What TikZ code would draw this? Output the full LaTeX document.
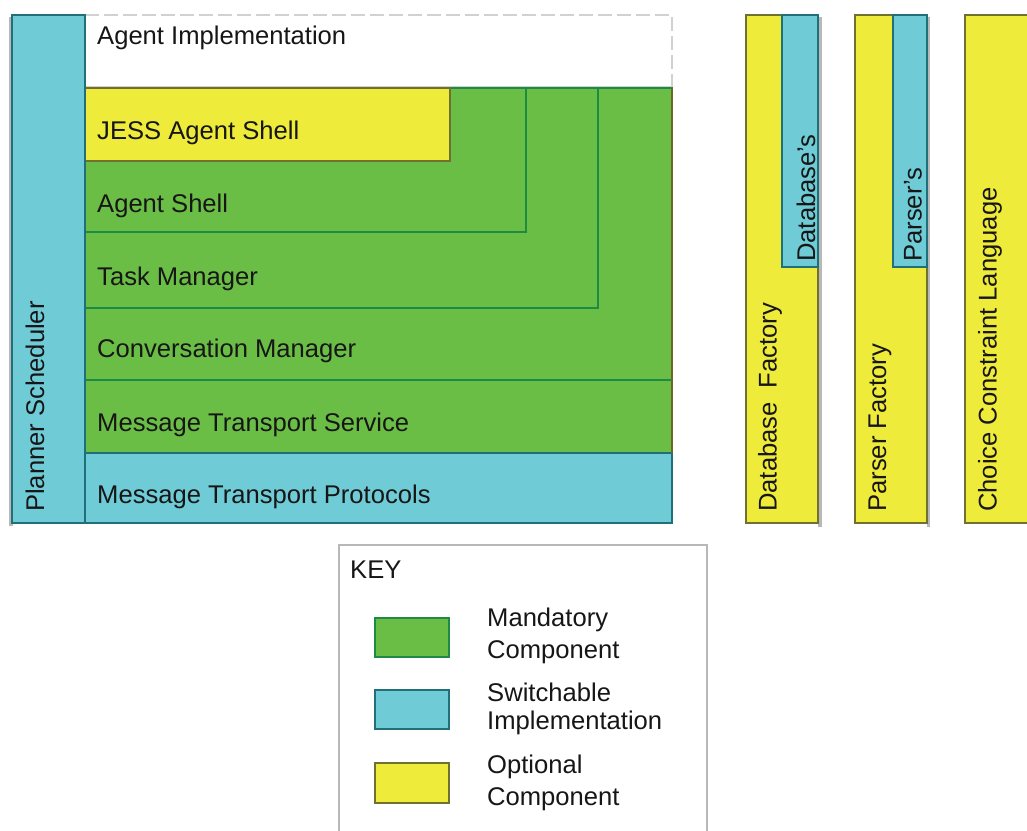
\documentclass[tikz,border=0pt]{standalone}
\usepackage{fontspec}
\setmainfont{Liberation Sans}
\definecolor{mgreen}{HTML}{6BBE45}
\definecolor{mgreenline}{HTML}{1E8B45}
\definecolor{mcyan}{HTML}{6FCBD6}
\definecolor{mcyanline}{HTML}{1F7078}
\definecolor{myellow}{HTML}{EEEB3A}
\definecolor{myellowline}{HTML}{707030}
\definecolor{mtext}{HTML}{161616}
\definecolor{mshadow}{HTML}{B8B8B8}
\tikzset{
  greenbox/.style={fill=mgreen,draw=mgreenline,line width=1.5pt},
  cyanbox/.style={fill=mcyan,draw=mcyanline,line width=1.2pt},
  yellowbox/.style={fill=myellow,draw=myellowline,line width=1.2pt},
  divider/.style={draw=mgreenline,line width=2pt},
  lbl/.style={inner sep=0pt,anchor=west,text=mtext,font=\fontsize{25.6}{28}\selectfont},
  vlbl/.style={lbl,rotate=90},
  keybox/.style={draw=mshadow,line width=1.2pt}
}
\begin{document}
\begin{tikzpicture}[x=1pt,y=-1pt]
\useasboundingbox (0,0) rectangle (1027,830);
% shadows
\fill[mshadow] (9,17) rectangle (13,526);
\fill[mshadow] (818,17) rectangle (822,527);
\fill[mshadow] (927,17) rectangle (930,527);
% Agent implementation box
\draw[draw=black!18,line width=1.5pt,dashed,dash pattern=on 14pt off 5pt] (85,15) -- (672,15) -- (672,87);
\draw[draw=black!18,line width=1.5pt] (85,87) -- (672,87);
% green stack
\draw[greenbox] (85,88) rectangle (672,453);
\draw[divider] (85,232) -- (526,232) -- (526,88);
\draw[divider] (85,308) -- (598,308) -- (598,88);
\draw[divider] (85,380) -- (672,380);
\draw[yellowbox] (85,88) rectangle (450,161);
\draw[cyanbox] (85,453) rectangle (672,523);
\draw[draw=olive!70!black,line width=1.5pt] (672,88) -- (672,453);
% planner column
\draw[cyanbox] (12,15) rectangle (85,523);
% right columns
\draw[yellowbox] (746,15) rectangle (818,523);
\draw[cyanbox] (782,15) rectangle (818,267);
\draw[yellowbox] (855,15) rectangle (927,523);
\draw[cyanbox] (893,15) rectangle (927,267);
\draw[yellowbox] (965,15) rectangle (1040,523);
% labels
\node[lbl] (ai) at (97,38) {Agent Implementation};
\node[lbl] (jess) at (97,133) {JESS Agent Shell};
\node[lbl] (as) at (97,206) {Agent Shell};
\node[lbl] (tm) at (97,279) {Task Manager};
\node[lbl] (cm) at (97,351) {Conversation Manager};
\node[lbl] (mts) at (97,425) {Message Transport Service};
\node[lbl] (mtp) at (97,497) {Message Transport Protocols};
\node[vlbl] (ps) at (35,512) {Planner Scheduler};
\node[vlbl] (dbf) at (770,512) {Database\ \ Factory};
\node[vlbl] (dbs) at (806,262) {Database's};
\node[vlbl] (pf) at (880,512) {Parser Factory};
\node[vlbl] (prs) at (913,262) {Parser's};
\node[vlbl] (ccl) at (990,512) {Choice Constraint Language};
% key
\draw[keybox] (339,840) -- (339,545) -- (707,545) -- (707,840);
\node[lbl] (key) at (350,570) {KEY};
\draw[greenbox,line width=1.2pt] (375,618) rectangle (449,657);
\draw[cyanbox] (375,690) rectangle (449,729);
\draw[yellowbox] (375,763) rectangle (449,803);
\node[lbl] (k1a) at (487,620) {Mandatory};
\node[lbl] (k1b) at (487,652) {Component};
\node[lbl] (k2a) at (487,692) {Switchable};
\node[lbl] (k2b) at (487,723) {Implementation};
\node[lbl] (k3a) at (487,767) {Optional};
\node[lbl] (k3b) at (487,799) {Component};
\end{tikzpicture}
\end{document}
